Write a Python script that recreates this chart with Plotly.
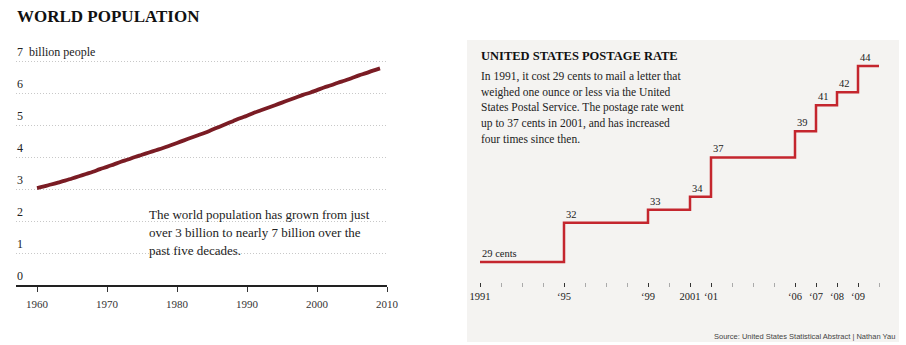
import plotly.graph_objects as go

W, H = 906, 345

# ---------------- data ----------------
pop_years = list(range(1960, 2010))
pop_billions = [3.03, 3.08, 3.14, 3.20, 3.26, 3.33, 3.40, 3.47, 3.54, 3.62,
                3.69, 3.77, 3.85, 3.92, 4.00, 4.07, 4.14, 4.21, 4.28, 4.36,
                4.44, 4.52, 4.60, 4.68, 4.76, 4.85, 4.94, 5.03, 5.12, 5.21,
                5.29, 5.38, 5.46, 5.54, 5.62, 5.70, 5.78, 5.86, 5.94, 6.01,
                6.09, 6.17, 6.24, 6.32, 6.39, 6.47, 6.55, 6.62, 6.70, 6.77]
pop_xticks = [1960, 1970, 1980, 1990, 2000, 2010]
pop_yticks = [0, 1, 2, 3, 4, 5, 6, 7]
pop_ylabels = ["0", "1", "2", "3", "4", "5", "6", "7  billion people"]

post_years = [1991, 1995, 1999, 2001, 2002, 2006, 2007, 2008, 2009, 2010]
post_cents = [29, 32, 33, 34, 37, 39, 41, 42, 44, 44]
post_labels = ["29 cents", "32", "33", "34", "37", "39", "41", "42", "44"]
post_major = [1991, 1995, 1999, 2001, 2002, 2006, 2007, 2008, 2009]
post_major_text = ["1991", "\u201895", "\u201899", "2001", "\u201801", "\u201806", "\u201807", "\u201808", "\u201809"]
post_minor = [1992, 1993, 1994, 1996, 1997, 1998, 2000, 2003, 2004, 2005, 2010]

SERIF = "Liberation Serif, Times New Roman, serif"
SANS = "Liberation Sans, Arial, sans-serif"

def px(x):
    return x / W

def py(y):
    return 1 - y / H

fig = go.Figure()

# ---------------- left chart ----------------
fig.add_trace(go.Scatter(x=pop_years, y=pop_billions, mode="lines",
                         line=dict(color="#7a1c24", width=3.8, shape="spline", smoothing=1.3),
                         xaxis="x", yaxis="y", showlegend=False, hoverinfo="skip"))

# ---------------- right chart ----------------
fig.add_trace(go.Scatter(x=post_years, y=post_cents, mode="lines",
                         line=dict(color="#c4262e", width=2.5, shape="hv"),
                         xaxis="x2", yaxis="y2", showlegend=False, hoverinfo="skip"))

annotations = []
# left title
annotations.append(dict(text="<b>WORLD POPULATION</b>", x=px(15), y=py(17), xref="paper", yref="paper",
                        xanchor="left", yanchor="middle", showarrow=False,
                        font=dict(family=SERIF, size=17, color="#111")))
# left y labels
for v, t in zip(pop_yticks, pop_ylabels):
    annotations.append(dict(text=t, x=px(15), y=v, xref="paper", yref="y",
                            xanchor="left", yanchor="middle", yshift=9, showarrow=False,
                            font=dict(family=SERIF, size=12, color="#222")))
# left note
left_note = ["The world population has grown from just",
             "over 3 billion to nearly 7 billion over the",
             "past five decades."]
for i, t in enumerate(left_note):
    annotations.append(dict(text=t, x=px(147), y=py(214 + 18.5 * i), xref="paper", yref="paper",
                            xanchor="left", yanchor="middle", showarrow=False,
                            font=dict(family=SERIF, size=13, color="#222")))

# right title + paragraph
annotations.append(dict(text="<b>UNITED STATES POSTAGE RATE</b>", x=px(479), y=py(56), xref="paper", yref="paper",
                        xanchor="left", yanchor="middle", showarrow=False,
                        font=dict(family=SERIF, size=12.5, color="#111")))
right_note = ["In 1991, it cost 29 cents to mail a letter that",
              "weighed one ounce or less via the United",
              "States Postal Service. The postage rate went",
              "up to 37 cents in 2001, and has increased",
              "four times since then."]
for i, t in enumerate(right_note):
    annotations.append(dict(text=t, x=px(479), y=py(77 + 15.5 * i), xref="paper", yref="paper",
                            xanchor="left", yanchor="middle", showarrow=False,
                            font=dict(family=SERIF, size=11.5, color="#222")))
# step labels
for xv, yv, t in zip(post_years, post_cents, post_labels):
    annotations.append(dict(text=t, x=xv, y=yv, xref="x2", yref="y2",
                            xanchor="left", yanchor="bottom", xshift=0, yshift=1, showarrow=False,
                            font=dict(family=SERIF, size=10.5, color="#222")))
# source
annotations.append(dict(text="Source: United States Statistical Abstract | Nathan Yau",
                        x=px(897), y=py(336), xref="paper", yref="paper",
                        xanchor="right", yanchor="middle", showarrow=False,
                        font=dict(family=SANS, size=7.5, color="#444")))

shapes = [dict(type="rect", xref="paper", yref="paper", x0=px(467), x1=px(899), y0=py(342), y1=py(40),
               fillcolor="#f4f3f1", line=dict(width=0), layer="below")]

fig.update_layout(
    width=W, height=H, margin=dict(l=0, r=0, t=0, b=0, pad=0, autoexpand=False),
    paper_bgcolor="white", plot_bgcolor="rgba(0,0,0,0)", showlegend=False,
    annotations=annotations, shapes=shapes,
    xaxis=dict(domain=[px(16), px(387)], range=[1957, 2010], tickvals=pop_xticks,
               ticks="outside", ticklen=5, tickcolor="#333", tickwidth=1, ticklabelstandoff=3,
               showline=True, linecolor="#222", linewidth=1.5, showgrid=False, zeroline=False,
               tickfont=dict(family=SERIF, size=11, color="#333"), fixedrange=True, automargin=False),
    yaxis=dict(domain=[py(285), py(55)], range=[0, (285 - 55) / 32.0], tickvals=pop_yticks[1:],
               showticklabels=False, showgrid=True, gridcolor="#c8c8c8", griddash="1px,2px", gridwidth=1,
               zeroline=False, showline=False, ticks="", fixedrange=True, automargin=False),
    xaxis2=dict(domain=[px(480), px(879)], range=[1991, 2010], anchor="y2",
                tickmode="array", tickvals=post_major, ticktext=post_major_text,
                ticks="outside", ticklen=4, tickcolor="#333", tickwidth=1.3,
                minor=dict(tickmode="array", tickvals=post_minor, ticks="outside", ticklen=4,
                           tickcolor="#aaa", tickwidth=1),
                showline=False, showgrid=False, zeroline=False,
                tickfont=dict(family=SERIF, size=10.5, color="#222"), fixedrange=True, automargin=False),
    yaxis2=dict(domain=[py(282), py(50)], range=[29 - 20 / 13.07, 44 + 16 / 13.07], anchor="x2",
                showticklabels=False, showgrid=False, zeroline=False, showline=False, ticks="",
                fixedrange=True, automargin=False),
)

fig.write_html("out.html")
